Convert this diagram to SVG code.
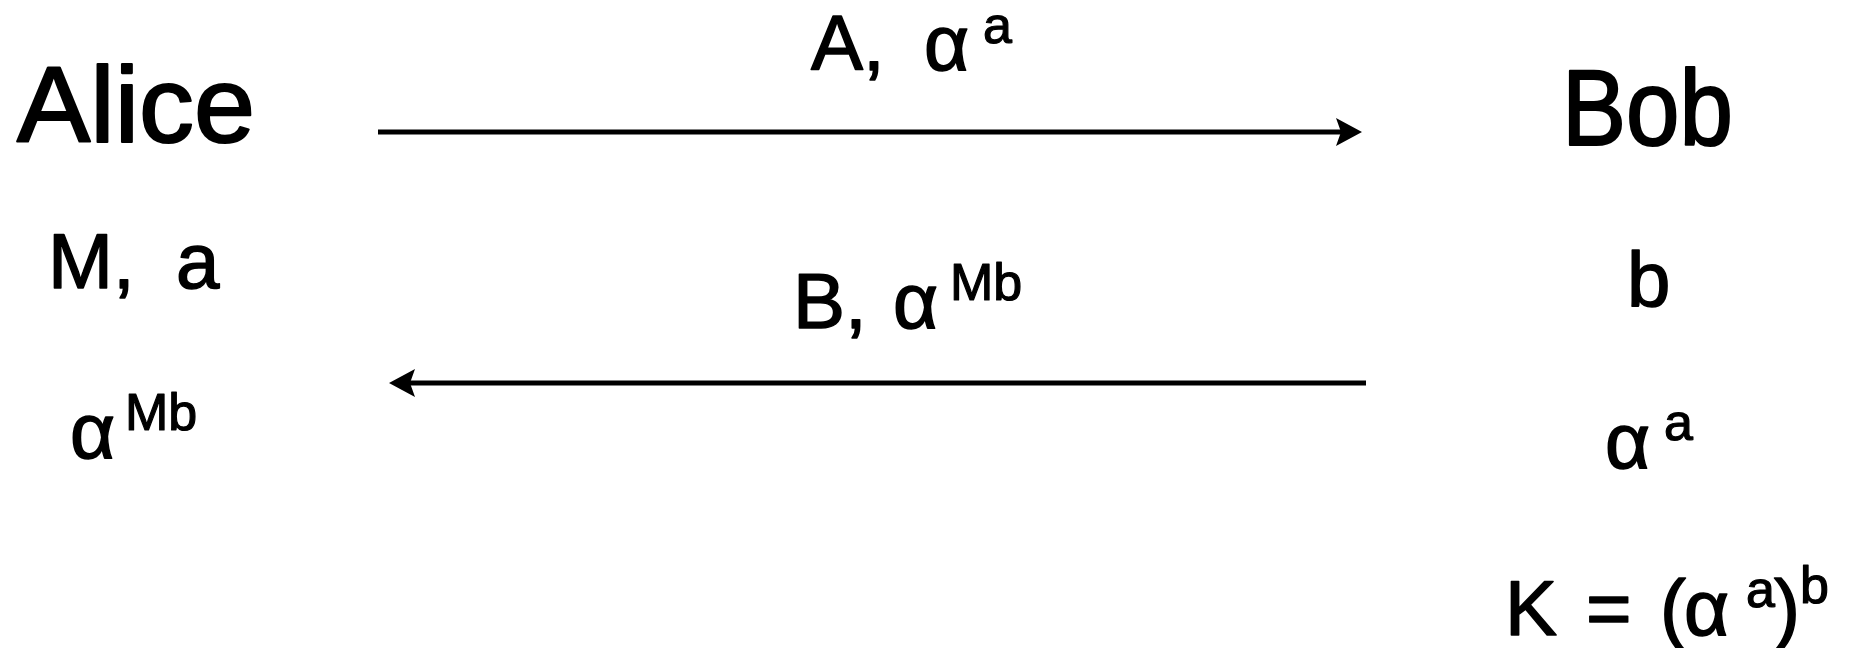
<svg xmlns="http://www.w3.org/2000/svg" width="1853" height="648" viewBox="0 0 1853 648">
<style>
text{font-family:"Liberation Sans","Noto Sans",sans-serif;fill:#000;stroke:#000;stroke-width:1.5;stroke-linejoin:round}
.big{font-size:108px;stroke-width:2.2}
.lab{font-size:78px}
.sup{font-size:52px;stroke-width:1.2}
.conn{stroke:#000;stroke-width:5;fill:none}
</style>
<defs>
<marker id="ah" viewBox="0 0 26 28" refX="16" refY="14" markerWidth="26" markerHeight="28" markerUnits="userSpaceOnUse" orient="auto">
<path d="M0,0 L26,14 L0,28 L5,14 Z" fill="#000"/>
</marker>
</defs>
<rect width="1853" height="648" fill="#fff"/>
<g id="alice">
<text class="big" x="17" y="142" textLength="238" lengthAdjust="spacingAndGlyphs">Alice</text>
<text class="lab" x="48" y="288">M,<tspan x="176">a</tspan></text>
<text class="lab" x="70" y="458">α<tspan class="sup" x="125" y="430">Mb</tspan></text>
</g>
<g id="bob">
<text class="big" x="1562" y="145" textLength="171" lengthAdjust="spacingAndGlyphs">Bob</text>
<text class="lab" x="1627" y="307">b</text>
<text class="lab" x="1605" y="468">α<tspan class="sup" x="1664" y="440">a</tspan></text>
<text class="lab" x="1505" y="635">K<tspan x="1586">=</tspan><tspan x="1660">(</tspan><tspan x="1684">α</tspan><tspan class="sup" x="1746" y="607">a</tspan><tspan x="1774" y="635">)</tspan><tspan class="sup" x="1800" y="603">b</tspan></text>
</g>
<g id="connectors">
<g id="msg1">
<line class="conn" x1="378" y1="132" x2="1352" y2="132" marker-end="url(#ah)"/>
<text class="lab" x="811" y="70">A,<tspan x="924">α</tspan><tspan class="sup" x="983" y="43">a</tspan></text>
</g>
<g id="msg2">
<line class="conn" x1="1366" y1="383" x2="399" y2="383" marker-end="url(#ah)"/>
<text class="lab" x="793" y="328">B,<tspan x="893">α</tspan><tspan class="sup" x="950" y="300">Mb</tspan></text>
</g>
</g>
</svg>
